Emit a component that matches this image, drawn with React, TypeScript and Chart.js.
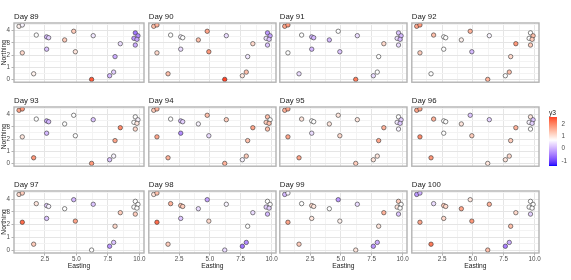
import React, { useEffect, useRef } from 'react';
import { Chart, registerables } from 'chart.js';

Chart.register(...registerables);

const FONT = '"Liberation Sans", Arial, Helvetica, sans-serif';

// Site coordinates (same sites every day)
const siteEasting = [0.44, 0.70, 1.81, 2.63, 2.79, 4.78, 4.06, 6.33, 0.70, 2.63, 4.91, 1.60, 6.20, 7.63, 7.95, 8.06, 8.48, 9.67, 9.88, 9.56, 9.80, 9.67];
const siteNorthing = [4.36, 4.47, 3.64, 3.49, 3.42, 3.95, 3.24, 3.59, 2.18, 2.48, 2.27, 0.46, 0.00, 0.30, 0.60, 1.87, 2.93, 3.82, 3.58, 3.37, 3.29, 2.82];

// y3 per site, one array per day
const y3Day89 = [0.84, 0.60, 0.70, 0.07, 0.28, 1.26, 1.26, 0.49, 1.12, 0.18, 0.98, 0.84, 2.40, 0.07, 0.28, -0.04, 0.39, -0.56, -0.35, -0.25, -0.14, -0.04];
const y3Day90 = [1.40, 1.54, 0.70, 0.60, 0.70, 1.68, 1.40, 0.39, 1.12, 0.39, 1.82, 1.40, 2.57, 0.98, 1.40, 0.49, 1.12, -0.25, -0.14, 0.39, 0.18, 0.18];
const y3Day91 = [1.68, 1.82, 0.70, 0.07, 0.07, 0.70, 0.07, 0.39, 0.70, 0.07, 0.18, 0.39, 2.10, 0.39, 0.70, 0.70, 1.12, 0.18, 0.07, 0.39, 0.07, 0.39];
const y3Day92 = [1.68, 1.82, 1.40, 0.70, 0.70, 1.54, 0.84, 0.60, 1.26, 0.70, 0.07, 0.70, 1.54, 0.70, 1.40, 1.12, 1.82, 0.70, 1.40, 0.70, 1.26, 1.26];
const y3Day93 = [1.68, 1.82, 0.70, -0.04, 0.07, 0.70, 0.70, 0.18, 0.98, 0.07, 0.70, 1.82, 1.82, 0.18, 0.60, 1.68, 1.96, 0.70, 0.60, 0.70, 0.98, 1.12];
const y3Day94 = [1.26, 1.54, 0.70, 0.07, 0.28, 1.40, 0.60, 1.26, 1.68, -0.35, 0.39, 1.54, 1.54, 0.60, 1.26, 1.40, 1.68, 1.40, 0.70, 1.26, 1.40, 1.40];
const y3Day95 = [1.54, 1.68, 0.98, 0.70, 0.70, 0.98, 0.98, 0.98, 1.68, 0.39, 1.12, 1.68, 1.26, 0.98, 0.98, 1.68, 1.54, 0.70, 0.28, 0.49, 0.18, 0.60];
const y3Day96 = [1.68, 1.68, 1.54, 0.70, 0.70, 0.18, 0.98, 0.28, 1.96, 0.70, 1.26, 1.82, 0.98, 0.98, 1.12, 1.26, 1.54, 0.98, 0.18, 0.60, 0.28, 0.70];
const y3Day97 = [1.12, 1.26, 0.98, 0.28, 0.60, 0.07, 0.70, 0.18, 2.24, 0.18, 1.68, 1.26, 0.70, -0.25, 0.18, 1.12, 1.26, 0.70, 0.70, 0.70, 0.70, 1.26];
const y3Day98 = [0.98, 1.40, 1.54, 1.40, 1.26, -0.14, 0.39, 0.60, 2.24, 0.18, 1.12, 1.26, 0.39, -0.56, -0.35, 0.70, 0.39, 0.70, 0.70, 0.28, 0.28, 0.07];
const y3Day99 = [0.07, 0.60, 0.70, 1.12, 0.98, -0.25, 0.70, 0.39, 1.68, 0.98, 0.84, 1.26, 0.98, -0.25, -0.04, 0.98, 1.54, 1.26, 0.70, 0.98, 0.70, 0.18];
const y3Day100 = [-0.25, -0.04, 0.39, 1.26, 1.12, 0.98, 1.68, 1.54, 1.68, 1.12, 1.82, 2.10, 1.40, -0.46, -0.04, 1.40, 1.12, 0.70, 0.70, 0.70, 0.70, 0.28];

const dayNumbers = [89, 90, 91, 92, 93, 94, 95, 96, 97, 98, 99, 100];
const dayValues = [y3Day89, y3Day90, y3Day91, y3Day92, y3Day93, y3Day94, y3Day95, y3Day96, y3Day97, y3Day98, y3Day99, y3Day100];

const xTicks = [1.25, 2.5, 3.75, 5, 6.25, 7.5, 8.75, 10];
const xMajor = [2.5, 5, 7.5, 10];
const yTicks = [0, 0.5, 1, 1.5, 2, 2.5, 3, 3.5, 4, 4.5];
const legendTicks = [-1, 0, 1, 2];
const y3Limits = [-1.41, 2.57];
const y3Mid = 0.7;

// Layout
const COL_LEFT = [14, 146, 277, 409];
const ROW_TOP = [23, 107, 191];
const PANEL_W = 130;
const PANEL_H = 62;
const TITLE_H = 12;
const RIGHT_PAD = 4;

// ---- colour (Lab interpolation like ggplot's gradient2) ----
function srgbToLab(r: number, g: number, b: number) {
  const lin = (c: number) => {
    c /= 255;
    return c <= 0.04045 ? c / 12.92 : Math.pow((c + 0.055) / 1.055, 2.4);
  };
  const R = lin(r), G = lin(g), B = lin(b);
  const X = (0.4124564 * R + 0.3575761 * G + 0.1804375 * B) / 0.95047;
  const Y = 0.2126729 * R + 0.7151522 * G + 0.072175 * B;
  const Z = (0.0193339 * R + 0.119192 * G + 0.9503041 * B) / 1.08883;
  const f = (t: number) => (t > 0.008856 ? Math.cbrt(t) : 7.787 * t + 16 / 116);
  const fx = f(X), fy = f(Y), fz = f(Z);
  return [116 * fy - 16, 500 * (fx - fy), 200 * (fy - fz)];
}
function labToRgb(L: number, a: number, b: number) {
  const fy = (L + 16) / 116;
  const fx = fy + a / 500;
  const fz = fy - b / 200;
  const finv = (t: number) => (t * t * t > 0.008856 ? t * t * t : (t - 16 / 116) / 7.787);
  const X = 0.95047 * finv(fx), Y = finv(fy), Z = 1.08883 * finv(fz);
  const rl = 3.2404542 * X - 1.5371385 * Y - 0.4985314 * Z;
  const gl = -0.969266 * X + 1.8760108 * Y + 0.041556 * Z;
  const bl = 0.0556434 * X - 0.2040259 * Y + 1.0572252 * Z;
  const g = (v: number) => {
    const c = v <= 0.0031308 ? 12.92 * v : 1.055 * Math.pow(v, 1 / 2.4) - 0.055;
    return Math.round(Math.max(0, Math.min(1, c)) * 255);
  };
  return `rgb(${g(rl)},${g(gl)},${g(bl)})`;
}
const LAB_LOW = srgbToLab(0, 0, 255);
const LAB_MID = srgbToLab(255, 255, 255);
const LAB_HIGH = srgbToLab(255, 0, 0);
function y3Color(v: number) {
  const maxDist = Math.max(Math.abs(y3Limits[0] - y3Mid), Math.abs(y3Limits[1] - y3Mid));
  let t = (v - y3Mid) / maxDist;
  t = Math.max(-1, Math.min(1, t));
  const target = t >= 0 ? LAB_HIGH : LAB_LOW;
  const a = Math.abs(t);
  return labToRgb(
    LAB_MID[0] + (target[0] - LAB_MID[0]) * a,
    LAB_MID[1] + (target[1] - LAB_MID[1]) * a,
    LAB_MID[2] + (target[2] - LAB_MID[2]) * a
  );
}

const panelBorder = {
  id: 'panelBorder',
  afterDraw(chart: any) {
    const { ctx, chartArea: a } = chart;
    ctx.save();
    ctx.strokeStyle = '#B3B3B3';
    ctx.lineWidth = 1.4;
    ctx.strokeRect(a.left, a.top, a.right - a.left, a.bottom - a.top);
    ctx.restore();
  },
};

const isMajorX = (v: number) => xMajor.some((m) => Math.abs(m - v) < 1e-9);
const isMajorY = (v: number) => Math.abs(v - Math.round(v)) < 1e-9;

function Panel({ idx }: { idx: number }) {
  const ref = useRef<HTMLCanvasElement>(null);
  const col = idx % 4;
  const row = Math.floor(idx / 4);
  const showY = col === 0;
  const showX = row === 2;
  const axisW = showY ? 14 : 0;
  const axisH = showX ? 27 : 0;
  const left = COL_LEFT[col] - axisW;
  const top = ROW_TOP[row] - TITLE_H;
  const width = axisW + PANEL_W + RIGHT_PAD;
  const height = TITLE_H + PANEL_H + axisH;

  useEffect(() => {
    const values = dayValues[idx];
    const chart = new Chart(ref.current as HTMLCanvasElement, {
      type: 'scatter',
      data: {
        datasets: [
          {
            data: siteEasting.map((x, i) => ({ x, y: siteNorthing[i] })),
            pointRadius: 2.2,
            pointHoverRadius: 2.2,
            pointBackgroundColor: values.map(y3Color),
            pointBorderColor: '#333333',
            pointBorderWidth: 0.6,
          },
        ],
      },
      options: {
        responsive: false,
        animation: false,
        devicePixelRatio: 1,
        events: [],
        layout: { padding: { left: 0, right: RIGHT_PAD, top: 0, bottom: 0 } },
        plugins: {
          legend: { display: false },
          tooltip: { enabled: false },
          title: {
            display: true,
            text: 'Day ' + dayNumbers[idx],
            align: 'start',
            fullSize: false,
            color: '#1a1a1a',
            font: { size: 7.8, family: FONT, weight: 'normal' },
            padding: { top: 1, bottom: 1.64 },
          },
        },
        scales: {
          x: {
            type: 'linear',
            min: 0.04,
            max: 10.36,
            afterBuildTicks: (s: any) => {
              s.ticks = xTicks.map((v) => ({ value: v }));
            },
            afterFit: (s: any) => {
              s.height = axisH;
              s.paddingLeft = 0;
              s.paddingRight = 0;
            },
            ticks: {
              display: showX,
              autoSkip: false,
              maxRotation: 0,
              padding: 0,
              color: '#4d4d4d',
              font: { size: 6.3, family: FONT },
              callback: (v: any) => (isMajorX(Number(v)) ? Number(v).toFixed(1) : ''),
            },
            grid: {
              color: (c: any) => (isMajorX(c.tick.value) ? '#E5E5E5' : '#F3F3F3'),
              lineWidth: 1,
              drawTicks: showX,
              tickLength: 2.5,
              tickWidth: 1,
              tickColor: (c: any) => (isMajorX(c.tick.value) ? '#B3B3B3' : 'rgba(0,0,0,0)'),
            },
            border: { display: false },
            title: {
              display: showX,
              text: 'Easting',
              color: '#1a1a1a',
              font: { size: 6.7, family: FONT },
              padding: { top: 0, bottom: 10 },
            },
          },
          y: {
            type: 'linear',
            min: -0.23,
            max: 4.63,
            afterBuildTicks: (s: any) => {
              s.ticks = yTicks.map((v) => ({ value: v }));
            },
            afterFit: (s: any) => {
              s.width = axisW;
              s.paddingTop = 0;
              s.paddingBottom = 0;
            },
            ticks: {
              display: showY,
              autoSkip: false,
              padding: 1.5,
              color: '#4d4d4d',
              font: { size: 6.3, family: FONT },
              callback: (v: any) => (isMajorY(Number(v)) ? String(Number(v)) : ''),
            },
            grid: {
              color: (c: any) => (isMajorY(c.tick.value) ? '#E5E5E5' : '#F3F3F3'),
              lineWidth: 1,
              drawTicks: showY,
              tickLength: 2.5,
              tickWidth: 1,
              tickColor: (c: any) => (isMajorY(c.tick.value) ? '#B3B3B3' : 'rgba(0,0,0,0)'),
            },
            border: { display: false },
            title: {
              display: showY,
              text: 'Northing',
              color: '#1a1a1a',
              font: { size: 6.7, family: FONT },
              padding: { top: 0, bottom: 0 },
            },
          },
        },
      } as any,
      plugins: [panelBorder],
    });
    return () => chart.destroy();
  }, [idx]);

  return (
    <canvas
      ref={ref}
      width={width}
      height={height}
      style={{ position: 'absolute', left, top, width, height }}
    />
  );
}

function ColorLegend() {
  const ref = useRef<HTMLCanvasElement>(null);
  const left = 549;
  const top = 105;
  const width = 22;
  const height = 61;
  useEffect(() => {
    const chart = new Chart(ref.current as HTMLCanvasElement, {
      type: 'bar',
      data: {
        labels: ['y3'],
        datasets: [
          {
            data: [[y3Limits[0], y3Limits[1]]] as any,
            borderWidth: 0,
            barPercentage: 1,
            categoryPercentage: 1,
            backgroundColor: (c: any) => {
              const area = c.chart.chartArea;
              if (!area) return '#ffffff';
              const g = c.chart.ctx.createLinearGradient(0, area.bottom, 0, area.top);
              const n = 40;
              for (let i = 0; i <= n; i++) {
                const v = y3Limits[0] + ((y3Limits[1] - y3Limits[0]) * i) / n;
                g.addColorStop(i / n, y3Color(v));
              }
              return g;
            },
          },
        ],
      },
      options: {
        responsive: false,
        animation: false,
        devicePixelRatio: 1,
        events: [],
        layout: { padding: 0 },
        plugins: {
          legend: { display: false },
          tooltip: { enabled: false },
          title: {
            display: true,
            text: 'y3',
            align: 'start',
            fullSize: false,
            color: '#1a1a1a',
            font: { size: 6.7, family: FONT, weight: 'normal' },
            padding: { top: 3.7, bottom: 0.26 },
          },
        },
        scales: {
          x: { display: false },
          y: {
            position: 'right',
            min: y3Limits[0],
            max: y3Limits[1],
            afterBuildTicks: (s: any) => {
              s.ticks = legendTicks.map((v) => ({ value: v }));
            },
            afterFit: (s: any) => {
              s.width = 14;
              s.paddingTop = 0;
              s.paddingBottom = 0;
            },
            ticks: {
              padding: 4.5,
              color: '#4d4d4d',
              font: { size: 6.3, family: FONT },
              callback: (v: any) => String(Number(v)),
            },
            grid: { display: false, drawTicks: false },
            border: { display: false },
          },
        },
      } as any,
    });
    return () => chart.destroy();
  }, []);
  return (
    <canvas
      ref={ref}
      width={width}
      height={height}
      style={{ position: 'absolute', left, top, width, height }}
    />
  );
}

export default function App() {
  return (
    <div
      style={{
        position: 'absolute',
        left: 0,
        top: 0,
        width: 571,
        height: 280,
        background: '#ffffff',
        overflow: 'hidden',
      }}
    >
      {dayNumbers.map((d, i) => (
        <Panel key={d} idx={i} />
      ))}
      <ColorLegend />
    </div>
  );
}
